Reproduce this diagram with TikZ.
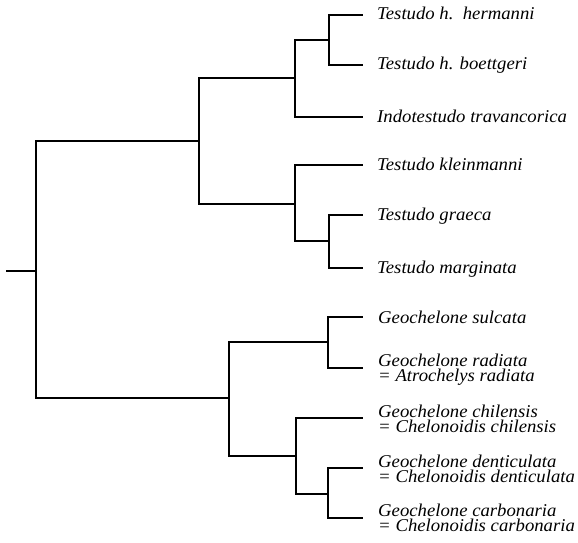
\documentclass[tikz,border=0pt]{standalone}
\usepackage{fontspec}
\setmainfont{Liberation Serif}[FakeStretch=1.04]
\begin{document}
\begin{tikzpicture}[x=1pt,y=-1pt,
  branch/.style={line width=2.6pt,line cap=rect,line join=miter},
  taxon/.style={anchor=base west,inner sep=0pt,align=left,
    font=\fontsize{18}{15}\selectfont\itshape}]
\useasboundingbox (0,0) rectangle (578,543);
% internal nodes
\coordinate (r0) at (7,271);
\coordinate (R) at (36,271);
\coordinate (A) at (199,141);
\coordinate (B) at (295,78);
\coordinate (C) at (329,40);
\coordinate (D) at (295,204);
\coordinate (E) at (329,241);
\coordinate (F) at (229,398);
\coordinate (G) at (328,342);
\coordinate (H) at (296,456);
\coordinate (I) at (328,494);
% leaf tips
\coordinate (t1) at (362,15);
\coordinate (t2) at (362,65);
\coordinate (t3) at (362,117);
\coordinate (t4) at (362,165);
\coordinate (t5) at (362,215);
\coordinate (t6) at (362,268);
\coordinate (t7) at (362,317);
\coordinate (t8) at (362,368);
\coordinate (t9) at (362,418);
\coordinate (t10) at (362,468);
\coordinate (t11) at (362,518);
% branches
\draw[branch] (r0) -- (R);
\draw[branch] (R) |- (A);
\draw[branch] (R) |- (F);
\draw[branch] (A) |- (B);
\draw[branch] (A) |- (D);
\draw[branch] (B) |- (C);
\draw[branch] (B) |- (t3);
\draw[branch] (C) |- (t1);
\draw[branch] (C) |- (t2);
\draw[branch] (D) |- (t4);
\draw[branch] (D) |- (E);
\draw[branch] (E) |- (t5);
\draw[branch] (E) |- (t6);
\draw[branch] (F) |- (G);
\draw[branch] (F) |- (H);
\draw[branch] (G) |- (t7);
\draw[branch] (G) |- (t8);
\draw[branch] (H) |- (t9);
\draw[branch] (H) |- (I);
\draw[branch] (I) |- (t10);
\draw[branch] (I) |- (t11);
% labels
\node[taxon] (l1) at (377,20) {Testudo h.\ \ hermanni};
\node[taxon] (l2) at (377,70) {Testudo h. boettgeri};
\node[taxon] (l3) at (377,122) {Indotestudo travancorica};
\node[taxon] (l4) at (377,170) {Testudo kleinmanni};
\node[taxon] (l5) at (377,220) {Testudo graeca};
\node[taxon] (l6) at (377,273) {Testudo marginata};
\node[taxon] (l7) at (378,323) {Geochelone sulcata};
\node[taxon] (l8) at (378,381) {Geochelone radiata\\= Atrochelys radiata};
\node[taxon] (l9) at (378,432) {Geochelone chilensis\\= Chelonoidis chilensis};
\node[taxon] (l10) at (378,482) {Geochelone denticulata\\= Chelonoidis denticulata};
\node[taxon] (l11) at (378,531) {Geochelone carbonaria\\= Chelonoidis carbonaria};
\end{tikzpicture}
\end{document}
